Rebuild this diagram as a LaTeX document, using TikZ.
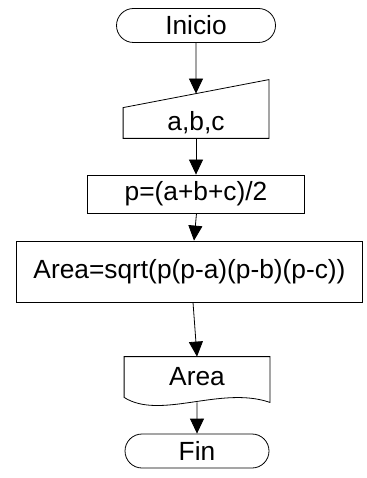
\documentclass[tikz,border=0pt]{standalone}
\usepackage{fontspec}
\setmainfont{Liberation Sans}
\usetikzlibrary{shapes.misc,calc,arrows.meta}

\begin{document}
\begin{tikzpicture} [x=1pt, y=-1pt, line width=0.8pt, >={Triangle[length=15pt,width=14pt]},
    font=\fontsize{26.3}{30}\selectfont,
    term/.style = {draw, rounded rectangle, minimum height=34pt, inner sep=0pt},
    proc/.style = {draw, rectangle, inner sep=0pt},
    bare/.style = {rectangle, inner sep=0pt}]
    \useasboundingbox (0,0) rectangle (366,478);

    \node[term, minimum width=159pt] (inicio) at (196,25.5) {Inicio};
    \node[bare, minimum width=145pt, minimum height=30pt] (datos)[below of=inicio, node distance=97.5pt] {a,b,c};
    \node[proc, minimum width=217pt, minimum height=38pt] (semi)[below of=datos, node distance=71pt] {p=(a+b+c)/2};
    \node[proc, minimum width=346pt, minimum height=61pt] (area)[below of=semi, node distance=77.5pt, xshift=-6.5pt] {Area=sqrt(p(p-a)(p-b)(p-c))};
    \node[bare, minimum width=145pt, minimum height=40pt] (salida)[below of=area, node distance=105.5pt, xshift=7.5pt] {Area};
    \node[term, minimum width=144pt] (fin)[below of=salida, node distance=74pt] {Fin};

    % entrada manual y documento
    \draw (datos.south west) -- (datos.north west) -- ($(datos.north east)+(0,-28)$) -- (datos.south east) -- cycle;
    \draw (salida.south west) .. controls ($(salida.south west)+(36,23)$) and ($(salida.south east)+(-49,-12)$) .. ($(salida.south east)+(0,5)$)
        -- (salida.north east) -- (salida.north west) -- cycle;
    \coordinate (datostop) at ($(datos.north)+(0,-14)$);
    \coordinate (salidabot) at ($(salida.south)+(0,5)$);

    \draw[->] (inicio) -- (datostop);
    \draw[->] (datos) -- (semi);
    \draw[->] ([xshift=0.5pt]semi.south) -- ([xshift=4.5pt]area.north);
    \draw[->] ([xshift=3.5pt]area.south) -- (salida.north);
    \draw[->] (salidabot) -- (fin);

  \end{tikzpicture}
\end{document}
